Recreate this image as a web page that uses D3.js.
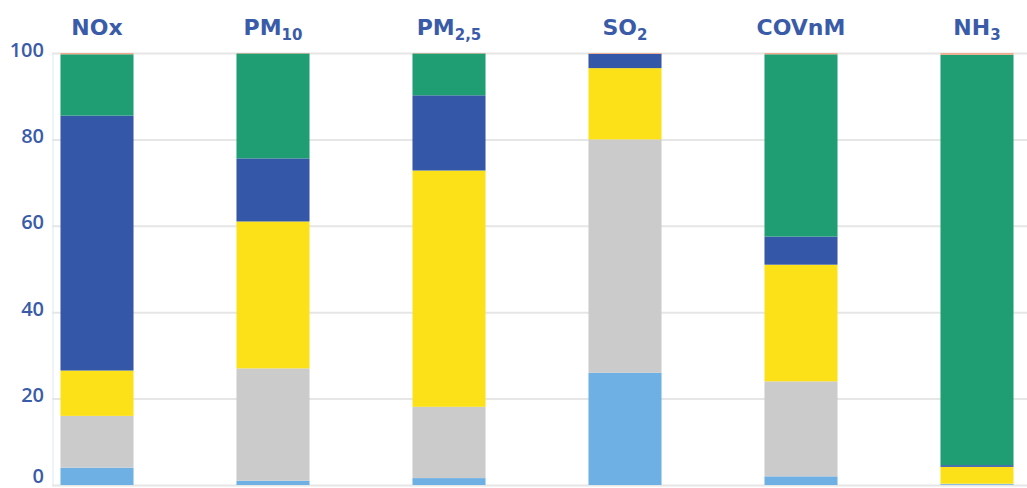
<!DOCTYPE html>
<html><head><meta charset="utf-8">
<script src="https://cdn.jsdelivr.net/npm/d3@7"></script>
<style>body{margin:0;background:#fff;}svg{display:block;}</style>
</head><body>
<svg id="c" width="1027" height="488"></svg>
<script>
const categories = ["NOx","PM10","PM2.5","SO2","COVnM","NH3"];
const labelMain = ["NOx","PM","PM","SO","COVnM","NH"];
const labelSub  = ["","10","2,5","2","","3"];
const seriesNames = ["s1","s2","s3","s4","s5","s6"];
const s1 = [4, 1, 1.6, 26, 2, 0.2];         // light blue
const s2 = [12, 26, 16.5, 54, 22, 0.1];     // grey
const s3 = [10.5, 34, 54.7, 16.5, 27, 3.9]; // yellow
const s4 = [59, 14.6, 17.4, 3.3, 6.5, 0.4]; // dark blue
const s5 = [14.2, 24.3, 9.7, 0, 42.2, 95];  // green
const s6 = [0.3, 0.1, 0.1, 0.2, 0.3, 0.4];  // orange
const yTicks = [0,20,40,60,80,100];
const colors = ["#6eb0e4","#cbcbcb","#fde118","#3557a8","#1f9e74","#f3a98a"];

const svg = d3.select("#c");
const y = d3.scaleLinear().domain([0,100]).range([485,53]);
const x = d3.scaleBand().domain(categories).range([9,1065]).paddingInner(0.585).paddingOuter(0.2925);

// grid
const yAxis = d3.axisLeft(y).tickValues(yTicks).tickSize(-(1027-52)).tickPadding(8);
const ga = svg.append("g").attr("transform","translate(52,0)").call(yAxis);
ga.select(".domain").remove();
ga.selectAll(".tick line").attr("stroke","#e6e6e6").attr("stroke-width",2);
ga.selectAll(".tick text").attr("fill","#3a5ca8").attr("font-family","'Open Sans', sans-serif")
  .attr("font-size",20).attr("font-weight",600).attr("dy",d=>d===0?"-3px":"0.15em");
svg.append("line").attr("x1",53).attr("x2",53).attr("y1",53).attr("y2",485)
  .attr("stroke","#dce8f5").attr("stroke-width",1);

const data = categories.map((c,i)=>({cat:c, s1:s1[i], s2:s2[i], s3:s3[i], s4:s4[i], s5:s5[i], s6:s6[i]}));
const stack = d3.stack().keys(seriesNames)(data);
svg.append("g").selectAll("g").data(stack).join("g").attr("fill",(d,i)=>colors[i])
  .selectAll("rect").data(d=>d).join("rect")
  .attr("x",d=>x(d.data.cat)).attr("width",x.bandwidth())
  .attr("y",d=>y(d[1])).attr("height",d=>Math.max(0,y(d[0])-y(d[1])));

// headers
const hd = svg.append("g").selectAll("text").data(categories).join("text")
  .attr("x",d=>x(d)+x.bandwidth()/2).attr("y",35).attr("text-anchor","middle")
  .attr("fill","#3a5ca8").attr("font-family","'DejaVu Sans', sans-serif").attr("font-weight",700).attr("font-size",22);
hd.each(function(d,i){
  const t=d3.select(this);
  t.append("tspan").text(labelMain[i]);
  if(labelSub[i]) t.append("tspan").attr("font-size",15).attr("dy",5).text(labelSub[i]);
});
</script>
</body></html>
